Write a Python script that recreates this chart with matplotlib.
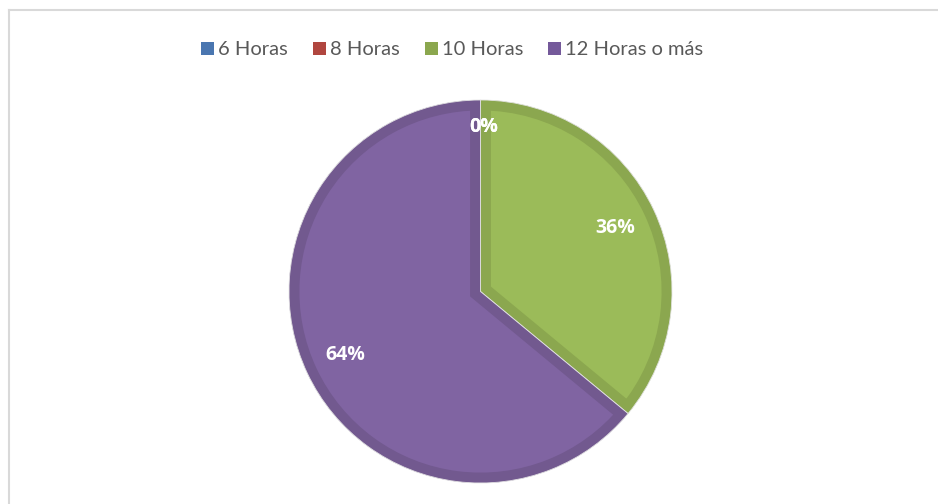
import matplotlib
matplotlib.use("Agg")
import matplotlib.pyplot as plt
from matplotlib.patches import Wedge, Rectangle
from matplotlib.lines import Line2D
import numpy as np

categories = ["6 Horas", "8 Horas", "10 Horas", "12 Horas o más"]
values = [0, 0, 36, 64]
pct_labels = ["0%", "0%", "36%", "64%"]

face_colors = ["#4F81BD", "#C0504D", "#9BBB59", "#8064A2"]
edge_colors = ["#4572A7", "#AA4643", "#8BA74F", "#72598F"]
legend_colors = ["#4A76B0", "#B0463F", "#8BA74E", "#74599A"]

W, H = 938, 504
fig = plt.figure(figsize=(W / 100, H / 100), dpi=100)
fig.patch.set_facecolor("white")

# frame lines (top and left visible)
fig.add_artist(Line2D([8.5 / W, 8.5 / W], [0, 1 - 9.5 / H], transform=fig.transFigure,
                      color="#d9d9d9", lw=1.5))
fig.add_artist(Line2D([8.5 / W, 1], [1 - 9.5 / H, 1 - 9.5 / H], transform=fig.transFigure,
                      color="#d9d9d9", lw=1.5))

cx, cy, R = 480.5, 291.5, 191.5
half = 200
ax = fig.add_axes([(cx - half) / W, (H - cy - half) / H, 2 * half / W, 2 * half / H])
ax.axis("off")

wedges, _ = ax.pie(values, colors=face_colors, startangle=90, counterclock=False,
                   radius=R, wedgeprops=dict(linewidth=0), normalize=True)
ax.set_xlim(-half, half)
ax.set_ylim(-half, half)

for w, v, ec, lab in zip(wedges, values, edge_colors, pct_labels):
    t1, t2 = w.theta1, w.theta2
    if v > 0:
        bevel = Wedge((0, 0), R, t1, t2, fill=False, edgecolor=ec, lw=15)
        ax.add_patch(bevel)
        bevel.set_clip_path(w)
        sep = Wedge((0, 0), R, t1, t2, fill=False, edgecolor="#e4e4e4", lw=0.6)
        ax.add_patch(sep)
    mid = np.deg2rad((t1 + t2) / 2)
    dist = 0.78 if v > 0 else 0.86
    ax.text(dist * R * np.cos(mid) + (3 if v == 0 else 0), dist * R * np.sin(mid), lab,
            ha="center", va="center", color="white", fontsize=14,
            fontweight="bold", family="Open Sans")

# legend, manual layout
fig.canvas.draw()
renderer = fig.canvas.get_renderer()
x = 201.0
base = 55.0
sq = 13.0
for cat, col in zip(categories, legend_colors):
    fig.add_artist(Rectangle((x / W, (H - base) / H), sq / W, sq / H,
                             transform=fig.transFigure, facecolor=col, edgecolor="none"))
    t = fig.text((x + sq + 4) / W, (H - base) / H, cat, ha="left", va="baseline",
                 fontsize=14.5, color="#595959", family="Lato")
    bb = t.get_window_extent(renderer)
    x = bb.x1 + 25

fig.savefig("out.png", dpi=100)
